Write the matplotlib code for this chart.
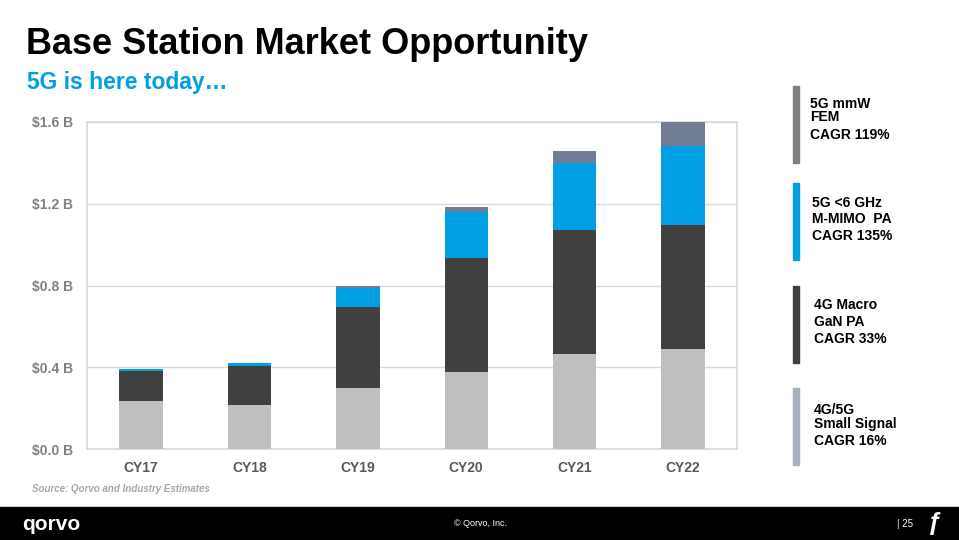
import matplotlib.pyplot as plt
import numpy as np

# Market size by year, $B, stacked bottom to top
years = ["CY17", "CY18", "CY19", "CY20", "CY21", "CY22"]
small_signal = [0.235, 0.215, 0.300, 0.377, 0.465, 0.490]
macro_gan = [0.145, 0.190, 0.395, 0.558, 0.605, 0.606]
mimo_pa = [0.010, 0.015, 0.092, 0.225, 0.330, 0.386]
mmw_fem = [0.000, 0.003, 0.013, 0.025, 0.058, 0.118]

y_ticks = [0.0, 0.4, 0.8, 1.2, 1.6]
y_labels = ["$0.0 B", "$0.4 B", "$0.8 B", "$1.2 B", "$1.6 B"]

series = [
    (small_signal, "#BFBFBF"),
    (macro_gan, "#404040"),
    (mimo_pa, "#009FE3"),
    (mmw_fem, "#717D95"),
]

legend_items = [
    (["5G mmW", "FEM", "CAGR 119%"], "#808080"),
    (["5G <6 GHz", "M-MIMO  PA", "CAGR 135%"], "#009FE3"),
    (["4G Macro", "GaN PA", "CAGR 33%"], "#404040"),
    (["4G/5G", "Small Signal", "CAGR 16%"], "#A9B0C0"),
]

plt.rcParams['font.family'] = ['Liberation Sans', 'DejaVu Sans']

W, H = 959, 540
fig = plt.figure(figsize=(W / 100, H / 100), dpi=100)
fig.patch.set_facecolor("white")

# plot area in pixel terms
left, right, top, bottom = 87, 737, 122, 449
ax = fig.add_axes([left / W, 1 - bottom / H, (right - left) / W, (bottom - top) / H])

x = np.arange(len(years))
base = np.zeros(len(years))
for vals, color in series:
    ax.bar(x, vals, width=0.4, bottom=base, color=color, zorder=3)
    base += np.array(vals)

ax.set_xlim(-0.5, len(years) - 0.5)
ax.set_ylim(0, 1.6)
ax.set_yticks(y_ticks)
ax.set_yticklabels(y_labels, fontsize=10, fontweight="bold", color="#808080")
ax.set_xticks(x)
ax.set_xticklabels(years, fontsize=10, fontweight="bold", color="#595959")
ax.tick_params(length=0, pad=9)
ax.tick_params(axis="y", pad=10)
ax.grid(axis="y", color="#D9D9D9", linewidth=1, zorder=0)
for s in ax.spines.values():
    s.set_color("#D9D9D9")
    s.set_linewidth(1.2)

# titles
fig.text(26 / W, 1 - 44 / H, "Base Station Market Opportunity", fontsize=26,
         fontweight="bold", color="black", va="center")
fig.text(27 / W, 1 - 83 / H, "5G is here today\u2026", fontsize=16.5,
         fontweight="bold", color="#009FE3", va="center")

# side legend bars with stacked text lines
legend_tops = [86, 183, 286, 388]
line_offsets = [[18, 31, 49], [20, 36, 53], [19, 36, 53], [22, 36, 53]]
text_x = [810, 812, 814, 814]
for (lines, color), ytop, offs, tx in zip(legend_items, legend_tops, line_offsets, text_x):
    fig.add_artist(plt.Rectangle((793 / W, 1 - (ytop + 77) / H), 6 / W, 77 / H,
                                 transform=fig.transFigure, color=color))
    for line, off in zip(lines, offs):
        fig.text(tx / W, 1 - (ytop + off) / H, line, fontsize=10, fontweight="bold",
                 color="black", va="center")

fig.text(32 / W, 1 - 489 / H, "Source: Qorvo and Industry Estimates", fontsize=7,
         fontstyle="italic", fontweight="bold", color="#A6A6A6", va="center")

# footer band
fig.add_artist(plt.Rectangle((0, 0), 1, 33 / H, transform=fig.transFigure,
                             color="black"))
fig.text(22 / W, 1 - 524 / H, "qorvo", fontsize=15, color="white", va="center",
         fontweight="bold")
fig.text(480 / W, 1 - 524 / H, "\u00a9 Qorvo, Inc.", fontsize=6.5, color="white",
         va="center", ha="center")
fig.text(897 / W, 1 - 524 / H, "| 25", fontsize=7, color="white", va="center")
fig.text(928 / W, 1 - 523 / H, "\u0192", fontsize=18, color="white", va="center",
         fontweight="bold")

fig.savefig("out.png", dpi=100)
